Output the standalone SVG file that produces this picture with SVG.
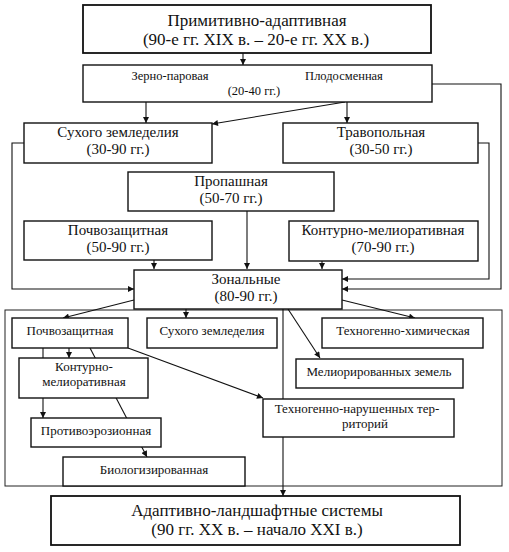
<svg xmlns="http://www.w3.org/2000/svg" width="509" height="552" viewBox="0 0 509 552">
<defs>
<marker id="ah" viewBox="0 0 10 10" refX="10" refY="5" markerWidth="7" markerHeight="6" markerUnits="userSpaceOnUse" orient="auto">
<path d="M0,0 L10,5 L0,10 z" fill="#111"/>
</marker>
</defs>
<style>
rect.n{fill:#fff;stroke:#111;stroke-width:1.4}
rect.big{fill:#fff;stroke:#111;stroke-width:1.8}
rect.frame{fill:none;stroke:#222;stroke-width:1}
.c line,.c polyline{fill:none;stroke:#111;stroke-width:1.1}
.a{marker-end:url(#ah)}
text{font-family:"Liberation Serif","Times New Roman",serif;fill:#111;text-anchor:middle}
.t17{font-size:17px}
.t15{font-size:15px}
.t13{font-size:13px}
.t125{font-size:12.5px}
</style>
<rect width="509" height="552" fill="#fff"/>
<g id="frame"><rect class="frame" x="5" y="310" width="497" height="176"/></g>
<g id="connectors" class="c">
<line class="a" x1="243" y1="53" x2="243" y2="65"/>
<line class="a" x1="146" y1="102" x2="146" y2="123"/>
<line class="a" x1="347" y1="102" x2="347" y2="123"/>
<line class="a" x1="345" y1="102" x2="212" y2="124"/>
<polyline class="a" points="432,84 501,84 501,289 342,289"/>
<polyline class="a" points="478,143 489,143 489,279 342,279"/>
<polyline class="a" points="24,143 12,143 12,289 134,289"/>
<line class="a" x1="154" y1="260" x2="154" y2="269"/>
<line class="a" x1="247" y1="211" x2="247" y2="269"/>
<line class="a" x1="322" y1="261" x2="322" y2="269"/>
<line class="a" x1="134" y1="300" x2="63" y2="318"/>
<line class="a" x1="186" y1="309" x2="186" y2="318"/>
<line class="a" x1="342" y1="300" x2="415" y2="318"/>
<line class="a" x1="288" y1="309" x2="320" y2="358"/>
<line class="a" x1="283" y1="309" x2="283" y2="496"/>
<line x1="43" y1="348" x2="43" y2="360"/>
<line class="a" x1="69" y1="348" x2="69" y2="358"/>
<line class="a" x1="43" y1="398" x2="43" y2="418"/>
<line class="a" x1="90" y1="348" x2="147" y2="457"/>
<line class="a" x1="128" y1="348" x2="263" y2="398"/>
</g>
<g id="n-primitive"><rect class="big" x="83" y="5" width="348" height="48"/>
<text class="t17" x="257" y="26">Примитивно-адаптивная</text>
<text class="t17" x="256" y="45">(90-е гг. XIX в. – 20-е гг. XX в.)</text></g>
<g id="n-zerno"><rect class="n" x="83" y="65" width="349" height="37"/>
<text class="t125" x="170" y="80">Зерно-паровая</text>
<text class="t125" x="344" y="80">Плодосменная</text>
<text class="t125" x="254" y="95">(20-40 гг.)</text></g>
<g id="n-sukhogo"><rect class="n" x="24" y="123" width="188" height="40"/>
<text class="t15" x="118" y="137">Сухого земледелия</text>
<text class="t15" x="118" y="154">(30-90 гг.)</text></g>
<g id="n-travopol"><rect class="n" x="283" y="123" width="195" height="40"/>
<text class="t15" x="381" y="137">Травопольная</text>
<text class="t15" x="381" y="154">(30-50 гг.)</text></g>
<g id="n-propash"><rect class="n" x="128" y="172" width="206" height="39"/>
<text class="t15" x="231" y="186">Пропашная</text>
<text class="t15" x="231" y="203">(50-70 гг.)</text></g>
<g id="n-pochvo"><rect class="n" x="24" y="221" width="188" height="39"/>
<text class="t15" x="118" y="235">Почвозащитная</text>
<text class="t15" x="118" y="252">(50-90 гг.)</text></g>
<g id="n-kontur"><rect class="n" x="289" y="221" width="189" height="40"/>
<text class="t15" x="383" y="235">Контурно-мелиоративная</text>
<text class="t15" x="383" y="252">(70-90 гг.)</text></g>
<g id="n-zonal"><rect class="n" x="134" y="270" width="208" height="39"/>
<text class="t15" x="246" y="284">Зональные</text>
<text class="t15" x="246" y="301">(80-90 гг.)</text></g>
<g id="n-pochvo2"><rect class="n" x="12" y="318" width="116" height="30"/>
<text class="t13" x="70" y="335">Почвозащитная</text></g>
<g id="n-sukhogo2"><rect class="n" x="147" y="318" width="130" height="30"/>
<text class="t13" x="212" y="335">Сухого земледелия</text></g>
<g id="n-khim"><rect class="n" x="322" y="318" width="161" height="30"/>
<text class="t13" x="403" y="335">Техногенно-химическая</text></g>
<g id="n-kontur2"><rect class="n" x="19" y="358" width="129" height="40"/>
<text class="t13" x="84" y="371">Контурно-</text>
<text class="t13" x="84" y="386">мелиоративная</text></g>
<g id="n-melior"><rect class="n" x="296" y="359" width="167" height="29"/>
<text class="t13" x="379" y="376">Мелиорированных земель</text></g>
<g id="n-narush"><rect class="n" x="263" y="399" width="191" height="38"/>
<text class="t13" x="357" y="413">Техногенно-нарушенных тер-</text>
<text class="t13" x="365" y="428">риторий</text></g>
<g id="n-protivo"><rect class="n" x="31" y="418" width="130" height="29"/>
<text class="t13" x="96" y="435">Противоэрозионная</text></g>
<g id="n-biolog"><rect class="n" x="63" y="457" width="182" height="29"/>
<text class="t13" x="154" y="474">Биологизированная</text></g>
<g id="n-adaptive"><rect class="big" x="51" y="496" width="409" height="49"/>
<text class="t17" x="257" y="516">Адаптивно-ландшафтные системы</text>
<text class="t17" x="257" y="535">(90 гг. XX в. – начало XXI в.)</text></g>
</svg>
